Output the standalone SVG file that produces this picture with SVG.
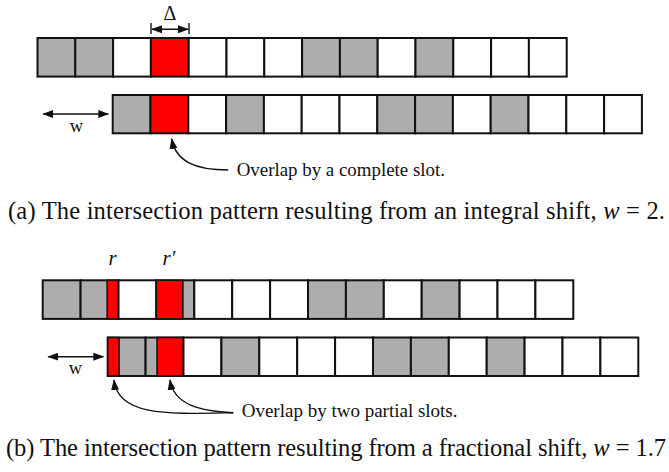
<svg xmlns="http://www.w3.org/2000/svg" width="669" height="472" viewBox="0 0 669 472">
<style>
.c{stroke:#111;stroke-width:2;fill:#fff}
.g{fill:#adadad}
.r{fill:#ff0000}
.w{fill:#fff}
.t{font-family:"Liberation Serif","Times New Roman",serif;fill:#111}
.ln{stroke:#111;stroke-width:1.4;fill:none}
</style>
<defs>
<marker id="ah" markerUnits="userSpaceOnUse" markerWidth="11" markerHeight="8" refX="10" refY="4" orient="auto-start-reverse">
<path d="M0,0 L11,4 L0,8 z" fill="#111"/>
</marker>
</defs>
<rect width="669" height="472" fill="#fff"/>

<g id="rowA1">
<rect class="c g" x="37.5" y="38" width="37.8" height="38.6"/>
<rect class="c g" x="75.3" y="38" width="37.8" height="38.6"/>
<rect class="c w" x="113.1" y="38" width="37.8" height="38.6"/>
<rect class="c r" x="150.9" y="38" width="37.8" height="38.6"/>
<rect class="c w" x="188.7" y="38" width="37.8" height="38.6"/>
<rect class="c w" x="226.5" y="38" width="37.8" height="38.6"/>
<rect class="c w" x="264.3" y="38" width="37.8" height="38.6"/>
<rect class="c g" x="302.1" y="38" width="37.8" height="38.6"/>
<rect class="c g" x="339.9" y="38" width="37.8" height="38.6"/>
<rect class="c w" x="377.7" y="38" width="37.8" height="38.6"/>
<rect class="c g" x="415.5" y="38" width="37.8" height="38.6"/>
<rect class="c w" x="453.3" y="38" width="37.8" height="38.6"/>
<rect class="c w" x="491.1" y="38" width="37.8" height="38.6"/>
<rect class="c w" x="528.9" y="38" width="37.8" height="38.6"/>
</g>

<g id="rowA2">
<rect class="c g" x="112.7" y="95" width="37.8" height="38.3"/>
<rect class="c r" x="150.5" y="95" width="37.8" height="38.3"/>
<rect class="c w" x="188.3" y="95" width="37.8" height="38.3"/>
<rect class="c g" x="226.1" y="95" width="37.8" height="38.3"/>
<rect class="c w" x="263.9" y="95" width="37.8" height="38.3"/>
<rect class="c w" x="301.7" y="95" width="37.8" height="38.3"/>
<rect class="c w" x="339.5" y="95" width="37.8" height="38.3"/>
<rect class="c g" x="377.3" y="95" width="37.8" height="38.3"/>
<rect class="c g" x="415.1" y="95" width="37.8" height="38.3"/>
<rect class="c w" x="452.9" y="95" width="37.8" height="38.3"/>
<rect class="c g" x="490.7" y="95" width="37.8" height="38.3"/>
<rect class="c w" x="528.5" y="95" width="37.8" height="38.3"/>
<rect class="c w" x="566.3" y="95" width="37.8" height="38.3"/>
<rect class="c w" x="604.1" y="95" width="37.8" height="38.3"/>
</g>

<g id="rowB1">
<rect class="c g" x="42.7" y="280.3" width="37.9" height="38.6"/>
<rect class="c g" x="80.6" y="280.3" width="37.9" height="38.6"/>
<rect class="c r" x="107.1" y="280.3" width="11.4" height="38.6" style="stroke-width:1.5"/>
<rect class="c w" x="118.5" y="280.3" width="37.9" height="38.6"/>
<rect class="c g" x="156.4" y="280.3" width="37.9" height="38.6"/>
<rect class="c r" x="156.4" y="280.3" width="26.5" height="38.6" style="stroke-width:1.5"/>
<rect class="c w" x="194.3" y="280.3" width="37.9" height="38.6"/>
<rect class="c w" x="232.2" y="280.3" width="37.9" height="38.6"/>
<rect class="c w" x="270.1" y="280.3" width="37.9" height="38.6"/>
<rect class="c g" x="308" y="280.3" width="37.9" height="38.6"/>
<rect class="c g" x="345.9" y="280.3" width="37.9" height="38.6"/>
<rect class="c w" x="383.8" y="280.3" width="37.9" height="38.6"/>
<rect class="c g" x="421.7" y="280.3" width="37.9" height="38.6"/>
<rect class="c w" x="459.6" y="280.3" width="37.9" height="38.6"/>
<rect class="c w" x="497.5" y="280.3" width="37.9" height="38.6"/>
<rect class="c w" x="535.4" y="280.3" width="37.9" height="38.6"/>
</g>

<g id="rowB2">
<rect class="c g" x="107.7" y="337.5" width="37.9" height="38.5"/>
<rect class="c r" x="107.7" y="337.5" width="11.4" height="38.5" style="stroke-width:1.5"/>
<rect class="c g" x="145.6" y="337.5" width="37.9" height="38.5"/>
<rect class="c r" x="157" y="337.5" width="26.5" height="38.5" style="stroke-width:1.5"/>
<rect class="c w" x="183.5" y="337.5" width="37.9" height="38.5"/>
<rect class="c g" x="221.4" y="337.5" width="37.9" height="38.5"/>
<rect class="c w" x="259.3" y="337.5" width="37.9" height="38.5"/>
<rect class="c w" x="297.2" y="337.5" width="37.9" height="38.5"/>
<rect class="c w" x="335.1" y="337.5" width="37.9" height="38.5"/>
<rect class="c g" x="373" y="337.5" width="37.9" height="38.5"/>
<rect class="c g" x="410.9" y="337.5" width="37.9" height="38.5"/>
<rect class="c w" x="448.8" y="337.5" width="37.9" height="38.5"/>
<rect class="c g" x="486.7" y="337.5" width="37.9" height="38.5"/>
<rect class="c w" x="524.6" y="337.5" width="37.9" height="38.5"/>
<rect class="c w" x="562.5" y="337.5" width="37.9" height="38.5"/>
<rect class="c w" x="600.4" y="337.5" width="37.9" height="38.5"/>
</g>

<g id="connectors">
<line class="ln" x1="151" y1="23" x2="151" y2="34"/>
<line class="ln" x1="189" y1="23" x2="189" y2="34"/>
<line class="ln" x1="152" y1="29.3" x2="188" y2="29.3" marker-start="url(#ah)" marker-end="url(#ah)"/>
<line class="ln" x1="43.3" y1="114" x2="108.3" y2="114" marker-start="url(#ah)" marker-end="url(#ah)"/>
<path class="ln" d="M228.3,170 C196,170 176,162 171.7,139" marker-end="url(#ah)"/>
<line class="ln" x1="48.3" y1="356.7" x2="103.3" y2="356.7" marker-start="url(#ah)" marker-end="url(#ah)"/>
<path class="ln" d="M233.3,412.7 C170,414 118,417 114,380" marker-end="url(#ah)"/>
<path class="ln" d="M233.3,412.7 C200,411 174,405 170,380" marker-end="url(#ah)"/>
</g>

<g id="labels">
<text class="t" x="170" y="20" font-size="20" text-anchor="middle">Δ</text>
<text class="t" x="76.5" y="132" font-size="18.5" text-anchor="middle">w</text>
<text class="t" x="236.7" y="175.5" font-size="18.9">Overlap by a complete slot.</text>
<text class="t" x="8" y="219" font-size="24.6" textLength="657" lengthAdjust="spacing">(a) The intersection pattern resulting from an integral shift, <tspan font-style="italic">w</tspan> = 2.</text>
<text class="t" x="112.5" y="265" font-size="21" font-style="italic" text-anchor="middle">r</text>
<text class="t" x="169" y="265" font-size="21" font-style="italic" text-anchor="middle">r′</text>
<text class="t" x="75.5" y="374" font-size="18.5" text-anchor="middle">w</text>
<text class="t" x="241.7" y="417" font-size="19">Overlap by two partial slots.</text>
<text class="t" x="6" y="456" font-size="24.6" textLength="660" lengthAdjust="spacing">(b) The intersection pattern resulting from a fractional shift, <tspan font-style="italic">w</tspan> = 1.7</text>
</g>
</svg>
